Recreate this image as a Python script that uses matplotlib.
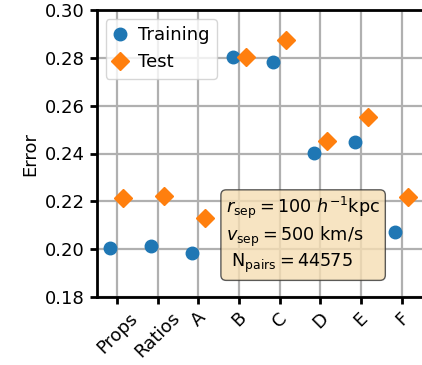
import numpy as np
import matplotlib
matplotlib.use('Agg')
import matplotlib.pyplot as plt

# === data ===
labels = ['Props', 'Ratios', 'A', 'B', 'C', 'D', 'E', 'F']
train_err = [0.2004, 0.2015, 0.1985, 0.2804, 0.2783, 0.2401, 0.2446, 0.2073]
test_err = [0.2213, 0.2224, 0.2132, 0.2805, 0.2875, 0.2451, 0.2554, 0.2219]

plt.rcParams['font.size'] = 13
plt.rcParams['axes.linewidth'] = 2
plt.rcParams['xtick.major.width'] = 2
plt.rcParams['ytick.major.width'] = 2
plt.rcParams['xtick.major.size'] = 5
plt.rcParams['ytick.major.size'] = 5

fig = plt.figure(figsize=(4.22, 3.65), dpi=100)
ax = fig.add_axes([96.6 / 422, 68 / 365, 325.6 / 422, 287 / 365])

x = np.arange(len(labels))
ax.plot(x - 0.16, train_err, 'o', color='#1f77b4', markersize=9, label='Training', zorder=3)
ax.plot(x + 0.16, test_err, 'D', color='#ff7f0e', markersize=9, label='Test', zorder=3)

ax.set_xlim(-0.5, 7.5)
ax.set_ylim(0.18, 0.30)
ax.set_xticks(x)
ax.set_xticklabels(labels, rotation=45)
ax.set_yticks(np.arange(0.18, 0.301, 0.02))
ax.yaxis.set_major_formatter(matplotlib.ticker.FormatStrFormatter('%.2f'))
ax.set_ylabel('Error')
ax.grid(True, color='#b0b0b0', linewidth=1.6)
ax.set_axisbelow(True)
ax.spines['right'].set_visible(False)

ax.legend(loc='upper left', handlelength=0.8, handletextpad=0.6)

txt = ('$r_{\\rm sep} = 100\\ h^{-1}{\\rm kpc}$\n'
       '$v_{\\rm sep} = 500\\ {\\rm km/s}$\n'
       ' $\\mathrm{N}_{\\rm pairs} = 44575$')
ax.text(0.398, 0.355, txt, transform=ax.transAxes, ha='left', va='top', fontsize=12.7,
        bbox=dict(boxstyle='round', facecolor='wheat', alpha=0.8, edgecolor='0.2'))

fig.savefig('out.png', dpi=100)
